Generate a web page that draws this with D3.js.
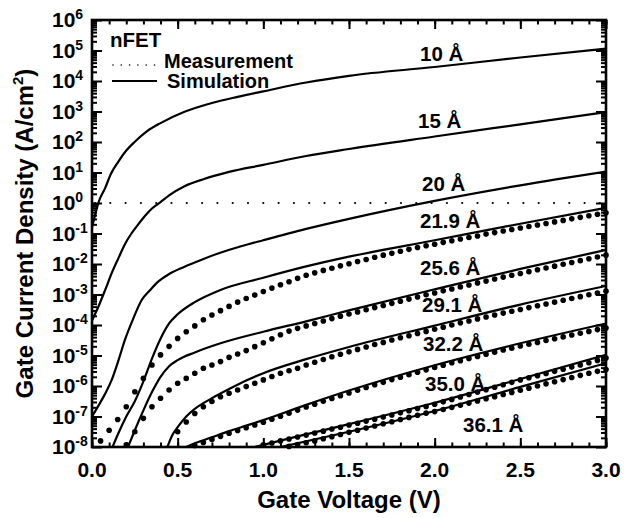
<!DOCTYPE html>
<html><head><meta charset="utf-8">
<script src="https://cdnjs.cloudflare.com/ajax/libs/d3/7.8.5/d3.min.js"></script>
<style>
body{margin:0;background:#fff}
svg{display:block}
text{font-family:"Liberation Sans",Arial,Helvetica,sans-serif;font-weight:bold;fill:#000}
</style></head>
<body><svg id="c" width="624" height="518"></svg>
<script>
// ---------- data ----------
const xTickValues = [0, 0.5, 1.0, 1.5, 2.0, 2.5, 3.0];
const xTickLabels = ["0.0", "0.5", "1.0", "1.5", "2.0", "2.5", "3.0"];
const yExponents = [6, 5, 4, 3, 2, 1, 0, -1, -2, -3, -4, -5, -6, -7, -8];

// simulation curves: gate voltage (V) and log10 of current density (A/cm^2)
const sim10V = [0, 0.02, 0.04, 0.076, 0.11, 0.153, 0.2, 0.25, 0.32, 0.4, 0.54, 0.7, 0.85, 1.0, 1.25, 1.5, 2.0, 2.5, 3.0];
const sim10L = [-0.8, -0.35, 0.05, 0.48, 0.95, 1.35, 1.72, 2.01, 2.35, 2.62, 2.99, 3.28, 3.48, 3.66, 3.95, 4.17, 4.46, 4.77, 5.06];
const sim15V = [0, 0.037, 0.077, 0.115, 0.155, 0.192, 0.23, 0.27, 0.31, 0.35, 0.4, 0.45, 0.54, 0.65, 0.8, 1.0, 1.25, 1.5, 2.0, 2.5, 3.0];
const sim15L = [-3.85, -3.4, -2.85, -2.3, -1.8, -1.35, -1.0, -0.7, -0.42, -0.18, 0.03, 0.25, 0.55, 0.78, 1.02, 1.25, 1.54, 1.77, 2.18, 2.58, 2.98];
const sim20V = [0, 0.037, 0.077, 0.115, 0.155, 0.192, 0.24, 0.29, 0.34, 0.386, 0.45, 0.54, 0.64, 0.74, 0.87, 1.0, 1.25, 1.5, 2.0, 2.5, 3.0];
const sim20L = [-7.0, -6.65, -6.25, -5.8, -5.15, -4.49, -3.8, -3.18, -2.85, -2.58, -2.33, -2.09, -1.86, -1.65, -1.42, -1.22, -0.85, -0.52, 0.07, 0.58, 1.03];
const sim219V = [0.12, 0.15, 0.2, 0.25, 0.3, 0.35, 0.4, 0.45, 0.5, 0.6, 0.75, 1.0, 1.25, 1.5, 2.0, 2.5, 3.0];
const sim219L = [-8.0, -7.6, -7.0, -6.5, -5.85, -5.1, -4.45, -3.95, -3.65, -3.25, -2.85, -2.45, -2.08, -1.76, -1.22, -0.68, -0.16];
const sim256V = [0.21, 0.25, 0.3, 0.35, 0.4, 0.45, 0.5, 0.6, 0.75, 1.0, 1.25, 1.5, 2.0, 2.5, 3.0];
const sim256L = [-8.0, -7.45, -6.8, -6.2, -5.7, -5.35, -5.15, -4.9, -4.6, -4.22, -3.88, -3.52, -2.83, -2.16, -1.54];
const sim291V = [0.44, 0.47, 0.5, 0.55, 0.6, 0.7, 0.8, 0.9, 1.0, 1.25, 1.5, 2.0, 2.5, 3.0];
const sim291L = [-8.0, -7.6, -7.35, -7.0, -6.75, -6.4, -6.1, -5.82, -5.58, -5.12, -4.72, -4.02, -3.33, -2.72];
const sim322V = [0.55, 0.6, 0.7, 0.8, 0.9, 1.0, 1.25, 1.5, 2.0, 2.5, 3.0];
const sim322L = [-8.0, -7.88, -7.68, -7.48, -7.3, -7.12, -6.62, -6.15, -5.32, -4.6, -3.95];
const sim350V = [0.95, 1.2, 1.5, 2.0, 2.5, 3.0];
const sim350L = [-8.0, -7.65, -7.25, -6.55, -5.77, -4.98];
const sim361V = [1.1, 1.5, 2.0, 2.5, 3.0];
const sim361L = [-8.0, -7.5, -6.82, -6.03, -5.25];

// measurements: gate voltage grid and log10 current density (null = below 1e-8)
const measV = [0.05,0.1,0.15,0.2,0.25,0.3,0.35,0.4,0.45,0.5,0.55,0.6,0.65,0.7,0.75,0.8,0.85,0.9,0.95,1.0,
  1.05,1.1,1.15,1.2,1.25,1.3,1.35,1.4,1.45,1.5,1.55,1.6,1.65,1.7,1.75,1.8,1.85,1.9,1.95,2.0,
  2.05,2.1,2.15,2.2,2.25,2.3,2.35,2.4,2.45,2.5,2.55,2.6,2.65,2.7,2.75,2.8,2.85,2.9,2.95,3.0];
const meas219L = [-7.8,-7.45,-7.1,-6.68,-6.19,-5.75,-5.31,-4.98,-4.7,-4.44,-4.22,-4.03,-3.83,-3.67,-3.53,-3.39,-3.25,-3.13,-3.02,-2.9,
  -2.79,-2.68,-2.58,-2.47,-2.37,-2.29,-2.21,-2.14,-2.06,-1.99,-1.92,-1.85,-1.78,-1.71,-1.65,-1.58,-1.52,-1.46,-1.40,-1.35,
  -1.29,-1.24,-1.18,-1.13,-1.08,-1.02,-0.97,-0.92,-0.87,-0.82,-0.77,-0.72,-0.67,-0.62,-0.57,-0.52,-0.47,-0.42,-0.37,-0.32];
const meas256L = [null,null,null,-7.93,-7.5,-7.06,-6.68,-6.4,-6.13,-5.91,-5.75,-5.58,-5.42,-5.31,-5.2,-5.06,-4.95,-4.84,-4.71,-4.58,
  -4.45,-4.32,-4.2,-4.11,-4.03,-3.95,-3.87,-3.79,-3.71,-3.64,-3.57,-3.5,-3.43,-3.36,-3.29,-3.22,-3.15,-3.08,-3.01,-2.95,
  -2.88,-2.82,-2.75,-2.69,-2.62,-2.56,-2.49,-2.43,-2.37,-2.31,-2.25,-2.19,-2.13,-2.07,-2.01,-1.95,-1.89,-1.83,-1.77,-1.71];
const meas291L = [null,null,null,null,null,null,null,null,null,-7.5,-7.18,-6.9,-6.68,-6.51,-6.35,-6.24,-6.13,-6.02,-5.91,-5.8,
  -5.69,-5.58,-5.5,-5.42,-5.31,-5.22,-5.13,-5.04,-4.96,-4.88,-4.8,-4.72,-4.64,-4.57,-4.49,-4.42,-4.35,-4.28,-4.21,-4.14,
  -4.07,-4.0,-3.93,-3.87,-3.8,-3.74,-3.67,-3.61,-3.55,-3.49,-3.43,-3.37,-3.31,-3.25,-3.19,-3.13,-3.07,-3.01,-2.95,-2.89];
const meas322L = [null,null,null,null,null,null,null,null,null,null,null,-7.95,-7.85,-7.75,-7.65,-7.55,-7.46,-7.37,-7.28,-7.19,
  -7.09,-6.99,-6.89,-6.79,-6.69,-6.6,-6.5,-6.41,-6.32,-6.23,-6.14,-6.05,-5.96,-5.88,-5.79,-5.71,-5.63,-5.55,-5.47,-5.39,
  -5.32,-5.24,-5.17,-5.1,-5.03,-4.96,-4.89,-4.82,-4.76,-4.69,-4.63,-4.57,-4.51,-4.45,-4.39,-4.33,-4.27,-4.21,-4.15,-4.1];
const meas350L = [null,null,null,null,null,null,null,null,null,null,null,null,null,null,null,null,null,null,null,-7.93,
  -7.87,-7.8,-7.74,-7.67,-7.61,-7.54,-7.48,-7.41,-7.35,-7.28,-7.22,-7.15,-7.09,-7.02,-6.95,-6.88,-6.81,-6.74,-6.67,-6.6,
  -6.52,-6.44,-6.36,-6.28,-6.2,-6.12,-6.04,-5.96,-5.88,-5.8,-5.73,-5.66,-5.59,-5.52,-5.45,-5.38,-5.31,-5.24,-5.16,-5.08];
const meas361L = [null,null,null,null,null,null,null,null,null,null,null,null,null,null,null,null,null,null,null,null,
  null,null,-7.98,-7.92,-7.86,-7.8,-7.73,-7.66,-7.59,-7.52,-7.45,-7.38,-7.31,-7.24,-7.17,-7.1,-7.03,-6.96,-6.89,-6.84,
  -6.77,-6.7,-6.63,-6.56,-6.49,-6.42,-6.35,-6.28,-6.21,-6.14,-6.07,-6.0,-5.93,-5.86,-5.79,-5.72,-5.65,-5.58,-5.52,-5.46];

const curveLabels = ["10 Å", "15 Å", "20 Å", "21.9 Å", "25.6 Å", "29.1 Å", "32.2 Å", "35.0 Å", "36.1 Å"];
const labelX = [420, 418, 422, 420, 420, 422, 423, 425, 463];
const labelY = [61, 128, 190.5, 228, 275, 311.5, 350.5, 390.5, 431.5];

// ---------- layout ----------
const svg = d3.select("#c");
const L = 92, R = 606, T = 20, B = 447;
const x = d3.scaleLinear().domain([0, 3]).range([L, R]);
const y = d3.scaleLog().domain([1e-8, 1e6]).range([B, T]);

svg.append("defs").append("clipPath").attr("id", "plot")
  .append("rect").attr("x", L).attr("y", T).attr("width", R - L).attr("height", B - T);

// reference line at 1 A/cm^2
svg.append("line").attr("x1", x(0) + 3).attr("x2", x(3)).attr("y1", y(1)).attr("y2", y(1))
  .attr("stroke", "#000").attr("stroke-width", 2.2).attr("stroke-linecap", "round")
  .attr("stroke-dasharray", "0,15.3");

// simulation lines
const sims = [[sim10V, sim10L], [sim15V, sim15L], [sim20V, sim20L], [sim219V, sim219L], [sim256V, sim256L],
  [sim291V, sim291L], [sim322V, sim322L], [sim350V, sim350L], [sim361V, sim361L]];
const line = d3.line().x(d => x(d[0])).y(d => y(Math.pow(10, d[1]))).curve(d3.curveMonotoneX);
const gSim = svg.append("g").attr("clip-path", "url(#plot)");
sims.forEach(([vs, ls]) => {
  gSim.append("path").datum(vs.map((v, i) => [v, ls[i]]))
    .attr("d", line).attr("fill", "none").attr("stroke", "#000").attr("stroke-width", 2.2);
});

// measurement dots
const meas = [meas219L, meas256L, meas291L, meas322L, meas350L, meas361L];
const gMeas = svg.append("g");
meas.forEach(ls => {
  gMeas.selectAll(null).data(measV.map((v, i) => [v, ls[i]]).filter(d => d[1] !== null))
    .enter().append("circle")
    .attr("cx", d => x(d[0])).attr("cy", d => y(Math.pow(10, d[1])))
    .attr("r", 2.8).attr("fill", "#000");
});

// axes with inward ticks
const minorX = d3.range(0, 31).map(i => i / 10);
const xMajor = d3.axisBottom(x).tickValues(xTickValues).tickSizeInner(-9).tickSizeOuter(0).tickFormat("");
const xMinor = d3.axisBottom(x).tickValues(minorX).tickSizeInner(-4.5).tickSizeOuter(0).tickFormat("");
const xMajorT = d3.axisTop(x).tickValues(xTickValues).tickSizeInner(-9).tickSizeOuter(0).tickFormat("");
const xMinorT = d3.axisTop(x).tickValues(minorX).tickSizeInner(-4.5).tickSizeOuter(0).tickFormat("");
const yMajorVals = yExponents.map(e => Math.pow(10, e));
const yMinorVals = [];
yExponents.slice(1).forEach(e => { for (let m = 2; m <= 9; m++) yMinorVals.push(m * Math.pow(10, e)); });
const yMajor = d3.axisLeft(y).tickValues(yMajorVals).tickSizeInner(-10).tickSizeOuter(0).tickFormat("");
const yMinor = d3.axisLeft(y).tickValues(yMinorVals).tickSizeInner(-5).tickSizeOuter(0).tickFormat("");
const yMajorR = d3.axisRight(y).tickValues(yMajorVals).tickSizeInner(-10).tickSizeOuter(0).tickFormat("");
const yMinorR = d3.axisRight(y).tickValues(yMinorVals).tickSizeInner(-5).tickSizeOuter(0).tickFormat("");

function styleAxis(g) {
  g.select(".domain").remove();
  g.selectAll(".tick line").attr("stroke", "#000").attr("stroke-width", 2);
}
svg.append("g").attr("transform", `translate(0,${B})`).call(xMajor).call(styleAxis);
svg.append("g").attr("transform", `translate(0,${B})`).call(xMinor).call(styleAxis);
svg.append("g").attr("transform", `translate(0,${T})`).call(xMajorT).call(styleAxis);
svg.append("g").attr("transform", `translate(0,${T})`).call(xMinorT).call(styleAxis);
svg.append("g").attr("transform", `translate(${L},0)`).call(yMajor).call(styleAxis);
svg.append("g").attr("transform", `translate(${L},0)`).call(yMinor).call(styleAxis);
svg.append("g").attr("transform", `translate(${R},0)`).call(yMajorR).call(styleAxis);
svg.append("g").attr("transform", `translate(${R},0)`).call(yMinorR).call(styleAxis);

// frame
svg.append("rect").attr("x", L).attr("y", T).attr("width", R - L).attr("height", B - T)
  .attr("fill", "none").attr("stroke", "#000").attr("stroke-width", 2.6);

// tick labels
svg.selectAll(null).data(xTickValues).enter().append("text")
  .attr("x", d => x(d)).attr("y", 477).attr("text-anchor", "middle")
  .attr("font-size", 21).text((d, i) => xTickLabels[i]);
yExponents.forEach(e => {
  const t = svg.append("text").attr("x", 52).attr("y", y(Math.pow(10, e)) + 7).attr("font-size", 21);
  t.append("tspan").text("10");
  t.append("tspan").attr("font-size", 14).attr("dy", -8).text(String(e));
});

// axis titles
svg.append("text").attr("x", (L + R) / 2).attr("y", 508).attr("text-anchor", "middle")
  .attr("font-size", 24).text("Gate Voltage (V)");
const yt = svg.append("text").attr("transform", `translate(33,${(T + B) / 2}) rotate(-90)`)
  .attr("text-anchor", "middle").attr("font-size", 24);
yt.append("tspan").text("Gate Current Density (A/cm");
yt.append("tspan").attr("font-size", 15).attr("dy", -10).text("2");
yt.append("tspan").attr("dy", 10).text(")");

// curve labels
curveLabels.forEach((s, i) => {
  svg.append("text").attr("x", labelX[i]).attr("y", labelY[i]).attr("font-size", 20.5).text(s);
});

// legend
svg.append("text").attr("x", 110).attr("y", 47).attr("font-size", 20.5).text("nFET");
svg.append("line").attr("x1", 113).attr("x2", 155).attr("y1", 65).attr("y2", 65)
  .attr("stroke", "#000").attr("stroke-width", 1.6).attr("stroke-linecap", "round").attr("stroke-dasharray", "0,8.3");
svg.append("text").attr("x", 164).attr("y", 67.5).attr("font-size", 20).text("Measurement");
svg.append("line").attr("x1", 112).attr("x2", 157).attr("y1", 81).attr("y2", 81)
  .attr("stroke", "#000").attr("stroke-width", 2);
svg.append("text").attr("x", 167).attr("y", 87.5).attr("font-size", 20).text("Simulation");
</script></body></html>
